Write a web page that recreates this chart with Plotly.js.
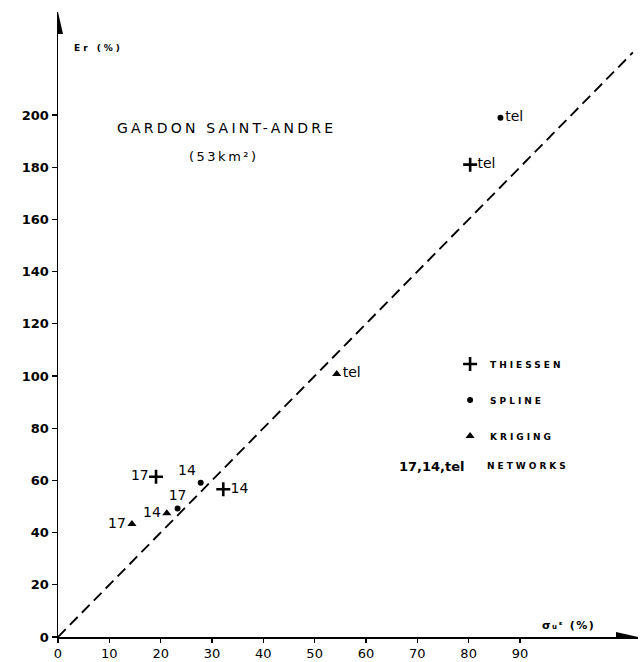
<!DOCTYPE html>
<html>
<head>
<meta charset="utf-8">
<script src="https://cdn.plot.ly/plotly-3.0.1.min.js"></script>
<style>html,body{margin:0;padding:0;background:#fff;}#chart{width:640px;height:662px;}</style>
</head>
<body>
<div id="chart"></div>
<script>
// Data
const thiessenX = [80.3, 19.1, 32.2];
const thiessenY = [181, 61.4, 56.6];
const thiessenLabels = ['tel', '17', '14'];

const splineX = [86.2, 27.8, 23.3];
const splineY = [199, 59.1, 49.2];
const splineLabels = ['tel', '14', '17'];

const krigingX = [54.3, 21.2, 14.4];
const krigingY = [100.8, 47.4, 43.3];
const krigingLabels = ['tel', '14', '17'];

const refLineX = [0, 112];
const refLineY = [0, 224];

const xTicks = [0, 10, 20, 30, 40, 50, 60, 70, 80, 90];
const yTicks = [0, 20, 40, 60, 80, 100, 120, 140, 160, 180, 200];

const labelFont = {family: 'DejaVu Sans', size: 14, color: '#000'};

const traces = [
  {
    x: refLineX, y: refLineY, mode: 'lines', showlegend: false, hoverinfo: 'skip',
    line: {color: '#000', width: 1.9, dash: '11px,6px'}
  },
  {
    name: 'THIESSEN', legendgroup: 'a',
    x: thiessenX, y: thiessenY, text: thiessenLabels, mode: 'markers+text',
    textposition: ['middle right', 'middle left', 'middle right'],
    textfont: labelFont,
    marker: {symbol: 'cross-thin', size: 10, color: '#000', line: {width: 2.6, color: '#000'}}
  },
  {
    name: 'SPLINE', legendgroup: 'b',
    x: splineX, y: splineY, text: splineLabels, mode: 'markers+text',
    textposition: ['middle right', 'top left', 'top center'],
    textfont: labelFont,
    marker: {symbol: 'circle', size: 6, color: '#000'}
  },
  {
    name: 'KRIGING', legendgroup: 'c',
    x: krigingX, y: krigingY, text: krigingLabels, mode: 'markers+text',
    textposition: ['middle right', 'middle left', 'middle left'],
    textfont: labelFont,
    marker: {symbol: 'triangle-up', size: 8, color: '#000'}
  }
];

const layout = {
  width: 640, height: 662,
  margin: {l: 58, r: 2, t: 12, b: 25},
  paper_bgcolor: '#fff', plot_bgcolor: '#fff',
  showlegend: true,
  legend: {
    x: 0.676, y: 0.46, xanchor: 'left', yanchor: 'top',
    font: {family: 'DejaVu Sans', size: 9, color: '#000', weight: 700},
    tracegroupgap: 17, bgcolor: 'rgba(0,0,0,0)'
  },
  xaxis: {
    range: [0, 113], showgrid: false, zeroline: false,
    showline: true, linecolor: '#000', linewidth: 1.5,
    ticks: 'outside', ticklen: 4, tickwidth: 1.2, tickcolor: '#000',
    tickvals: xTicks, ticktext: xTicks.map(String),
    tickfont: {family: 'DejaVu Sans', size: 13, color: '#000'}
  },
  yaxis: {
    range: [0, 239.5], showgrid: false, zeroline: false,
    showline: true, linecolor: '#000', linewidth: 1.5,
    ticks: 'outside', ticklen: 5, tickwidth: 1.2, tickcolor: '#000',
    tickvals: yTicks, ticktext: yTicks.map(String),
    tickfont: {family: 'DejaVu Sans', size: 13, color: '#000', weight: 700}
  },
  shapes: [
    {type: 'path', xref: 'x', yref: 'y', xsizemode: 'pixel', ysizemode: 'pixel',
     xanchor: 113, yanchor: 0, path: 'M 0 0 L -22 -5 L -22 5 Z',
     fillcolor: '#000', line: {width: 0}},
    {type: 'path', xref: 'x', yref: 'y', xsizemode: 'pixel', ysizemode: 'pixel',
     xanchor: 0, yanchor: 239.5, path: 'M 0 0 L -5 -22 L 5 -22 Z',
     fillcolor: '#000', line: {width: 0}}
  ],
  annotations: [
    {x: 11.1, y: 195, xref: 'x', yref: 'y', xanchor: 'left', yanchor: 'middle', align: 'left', showarrow: false,
     text: 'GARDON SAINT-ANDRE', font: {family: 'DejaVu Sans', size: 14, color: '#000'}},
    {x: 25.1, y: 184.3, xref: 'x', yref: 'y', xanchor: 'left', yanchor: 'middle', align: 'left', showarrow: false,
     text: '(53km²)', font: {family: 'DejaVu Sans', size: 13, color: '#000'}},
    {x: 2.7, y: 225.7, xref: 'x', yref: 'y', xanchor: 'left', yanchor: 'middle', align: 'left', showarrow: false,
     text: 'Er (%)', font: {family: 'DejaVu Sans', size: 9, color: '#000', weight: 700}},
    {x: 94, y: 1.2, xref: 'x', yref: 'y', xanchor: 'left', yanchor: 'bottom', align: 'left', showarrow: false,
     text: 'σᵤᵋ (%)', font: {family: 'DejaVu Sans', size: 11, color: '#000', weight: 700}},
    {x: 79.7, y: 65.5, xref: 'x', yref: 'y', xanchor: 'right', yanchor: 'middle', showarrow: false,
     text: '17,14,tel', font: {family: 'DejaVu Sans', size: 13, color: '#000', weight: 700}},
    {x: 83.2, y: 65.5, xref: 'x', yref: 'y', xanchor: 'left', yanchor: 'middle', align: 'left', showarrow: false,
     text: 'NETWORKS', font: {family: 'DejaVu Sans', size: 9, color: '#000', weight: 700}}
  ]
};

Plotly.newPlot('chart', traces, layout, {staticPlot: true}).then(function (gd) {
  gd.querySelectorAll('.legend .scrollbox').forEach(function (s) { s.removeAttribute('clip-path'); });
  gd.querySelectorAll('.legend').forEach(function (s) { s.removeAttribute('clip-path'); });
  gd.querySelectorAll('.legendtext').forEach(function (t) { t.setAttribute('letter-spacing', '3'); });
  const anns = gd.querySelectorAll('.annotation-text');
  const spacing = [3.2, 2.5, 3, 1.5, 0, 3];
  anns.forEach(function (t, i) { if (spacing[i]) t.setAttribute('letter-spacing', String(spacing[i])); });
});
</script>
</body>
</html>
